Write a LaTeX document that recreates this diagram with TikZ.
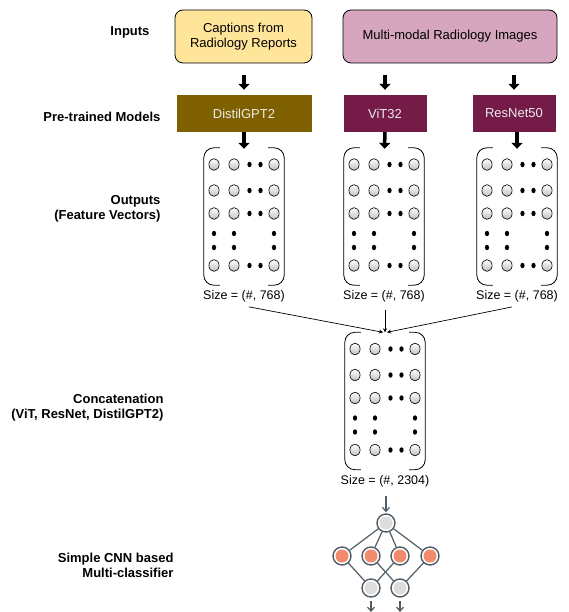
\documentclass[tikz,border=0pt]{standalone}
\usepackage{fontspec}
\setmainfont{Liberation Sans}
\usetikzlibrary{arrows.meta,positioning}
\definecolor{capfill}{HTML}{FFE599}
\definecolor{imgfill}{HTML}{D5A6BD}
\definecolor{gptfill}{HTML}{7F6000}
\definecolor{visfill}{HTML}{741B47}
\definecolor{netline}{HTML}{505C66}
\definecolor{netred}{HTML}{F28B6C}
\definecolor{netgray}{HTML}{DDDDDD}

\tikzset{
  inbox/.style={draw, line width=0.8pt, rounded corners=8pt, inner sep=0pt, align=center},
  modelbox/.style={inner sep=0pt, text=white!92!black},
  rowlabel/.style={anchor=east, align=right, font=\bfseries\fontsize{13}{15}\selectfont},
  cell/.style={draw=black, line width=0.6pt, top color=white, bottom color=gray!50},
  blk/.style={line width=3.5pt, -{Triangle[length=6pt,width=11pt]}},
  thin/.style={line width=0.7pt, -{Stealth[length=4pt,width=4pt]}},
  netnode/.style={circle, draw=netline, line width=1.4pt, fill=white, minimum size=18pt, inner sep=0pt},
  netgrayn/.style={netnode, path picture={\fill[netgray] (path picture bounding box.center) circle (6.5pt);}},
  netredn/.style={netnode, path picture={\fill[netred] (path picture bounding box.center) circle (6.5pt);}},
  netedge/.style={draw=netline, line width=1.2pt},
  netarr/.style={netline, line width=1.2pt, -{Straight Barb[length=4pt,width=7pt]}}
}

\newcommand{\featmat}[4]{%
  \node[minimum width=80pt, minimum height=137pt, inner sep=0pt] (#1) at (#2,#3) {};
  \draw[line width=0.8pt, rounded corners=10pt] ([xshift=16pt]#1.north west) -- (#1.north west) -- (#1.south west) -- ([xshift=16pt]#1.south west);
  \draw[line width=0.8pt, rounded corners=10pt] ([xshift=-16pt]#1.north east) -- (#1.north east) -- (#1.south east) -- ([xshift=-16pt]#1.south east);
  \foreach \r in {-52,-26,-3,49} {
    \foreach \c in {-30,-10,30}
      \draw[cell] ([shift={(\c,\r)}]#1.center) ellipse (5.1pt and 5.9pt);
    \foreach \c in {5.5,16.5}
      \fill ([shift={(\c,\r)}]#1.center) ellipse (2.1pt and 2.7pt);
  }
  \foreach \r in {17,31}
    \foreach \c in {-30,-10,30}
      \fill ([shift={(\c,\r)}]#1.center) ellipse (2.1pt and 2.7pt);
  \node[below=2pt of #1, font=\fontsize{12.5}{15}\selectfont] (#1size) {Size = (\#, #4)};
}

\begin{document}
\begin{tikzpicture}[x=1pt, y=-1pt, font=\fontsize{13}{15}\selectfont]
    \useasboundingbox (0,0) rectangle (569,612);

    \node[rowlabel] (linputs) at (153,32) {Inputs};
    \node[rowlabel] (lmodels) at (164,117) {Pre-trained Models};
    \node[rowlabel] (loutputs) at (164,209) {Outputs\\(Feature Vectors)};
    \node[rowlabel] (lconcat) at (167,408) {Concatenation\\(ViT, ResNet, DistilGPT2)};
    \node[rowlabel] (lcnn) at (177,565) {Simple CNN based\\Multi-classifier};

    \node[inbox, fill=capfill, minimum width=137pt, minimum height=53pt] (cap) at (243.5,36.5) {Captions from\\Radiology Reports};
    \node[inbox, fill=imgfill, minimum width=214pt, minimum height=53pt] (img) at (450,36.5) {Multi-modal Radiology Images};

    \node[modelbox, fill=gptfill, minimum width=135pt, minimum height=37pt] (gpt) at (244,113.5) {DistilGPT2};
    \node[modelbox, fill=visfill, minimum width=83pt, minimum height=37pt] (vit) at (385,113.5) {ViT32};
    \node[modelbox, fill=visfill, minimum width=83pt, minimum height=37pt] (res) at (514,113.5) {ResNet50};

    \draw[blk, shorten <=12pt, shorten >=5pt] (cap.south -| gpt) -- (gpt);
    \draw[blk, shorten <=12pt, shorten >=5pt] (img.south -| vit) -- (vit);
    \draw[blk, shorten <=12pt, shorten >=5pt] (img.south -| res) -- (res);

    \featmat{gptv}{244}{216.5}{768}
    \featmat{vitv}{384}{216.5}{768}
    \featmat{resv}{517}{216.5}{768}
    \featmat{catv}{385}{401}{2304}

    \draw[blk, shorten >=-1pt] (gpt) -- (gptv);
    \draw[blk, shorten >=-1pt] (vit) -- (vitv);
    \draw[blk, shorten >=-1pt] (res.south -| resv) -- (resv);

    \draw[thin, shorten <=5pt] (gptvsize.south) -- ([xshift=-2pt]catv.north);
    \draw[thin, shorten <=4pt] (vitvsize.south -| catv) -- (catv.north);
    \draw[thin, shorten <=5pt] (resvsize.south) -- ([xshift=2pt]catv.north);

    \node[netgrayn] (ntop) at (386,523) {};
    \node[netredn] (nm1) at (342,556) {};
    \node[netredn] (nm2) at (371,556) {};
    \node[netredn] (nm3) at (400,556) {};
    \node[netredn] (nm4) at (430,556) {};
    \node[netgrayn] (nb1) at (371,588) {};
    \node[netgrayn] (nb2) at (400,588) {};
    \coordinate (nin) at (386,496);
    \coordinate (nout1) at (371,612);
    \coordinate (nout2) at (400,612);

    \foreach \m in {nm1,nm2,nm3,nm4}
      \draw[netedge] (ntop) -- (\m);
    \draw[netedge] (nm1) -- (nb1);
    \draw[netedge] (nm2) -- (nb2);
    \draw[netedge] (nm3) -- (nb1);
    \draw[netedge] (nm4) -- (nb2);
    \draw[netarr, shorten >=1pt] (nin) -- (ntop);
    \draw[netarr, shorten <=3pt] (nb1) -- (nout1);
    \draw[netarr, shorten <=3pt] (nb2) -- (nout2);
\end{tikzpicture}
\end{document}
